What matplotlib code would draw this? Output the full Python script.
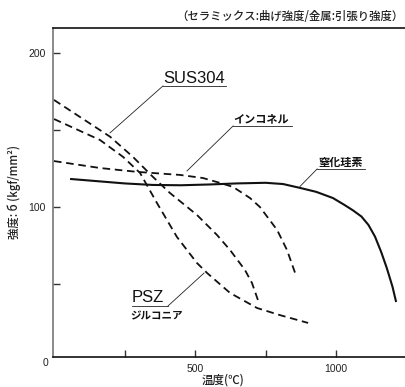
import matplotlib
matplotlib.use("Agg")
import matplotlib.pyplot as plt

plt.rcParams['font.family'] = ['Noto Sans CJK JP', 'DejaVu Sans']

# ---- data ----
si3n4_x = [57, 150, 250, 350, 450, 550, 650, 750, 812, 872, 930, 989, 1030, 1060, 1090, 1115, 1138, 1160, 1180, 1200, 1213]
si3n4_y = [118.4, 117.0, 115.5, 114.5, 114.3, 114.8, 115.5, 115.9, 115.1, 112.6, 110.0, 106.0, 101.5, 98.0, 94.0, 88.5, 81.0, 71.0, 60.5, 48.5, 38.5]

sus_x = [0, 199, 280, 351, 411, 507, 578, 624, 677, 702, 723]
sus_y = [169.7, 145.8, 132.7, 119.7, 109.3, 95.0, 82.0, 72.3, 59.3, 50.8, 39.8]

psz_x = [0, 163, 245, 305, 365, 436, 507, 543, 624, 720, 801, 901]
psz_y = [157.3, 143.7, 132.7, 122.3, 102.8, 80.7, 63.8, 57.3, 44.4, 34.6, 30.0, 24.9]

inc_x = [0, 163, 294, 447, 528, 589, 635, 695, 730, 791, 826, 855]
inc_y = [130.0, 125.5, 123.0, 121.0, 119.0, 115.8, 113.2, 106.0, 100.2, 85.3, 72.3, 57.3]

x_ticks = [250, 500, 750, 1000]
x_ticklabels = ['', '500', '', '1000']
y_ticks = [50, 100, 150, 200]
y_ticklabels = ['', '100', '', '200']

W, H = 406, 387
fig = plt.figure(figsize=(W / 100, H / 100), dpi=100)
ax = fig.add_axes([53 / W, 1 - 357.3 / H, 1 - 53 / W, (357.3 - 28) / H])
ax.set_xlim(-3.5, 1248)
ax.set_ylim(2.6, 216.4)

dash = (0, (4.2, 2.6))
ax.plot(si3n4_x, si3n4_y, color='#111111', lw=1.5, solid_capstyle='butt')
ax.plot(sus_x, sus_y, color='#111111', lw=1.3, linestyle=dash)
ax.plot(psz_x, psz_y, color='#111111', lw=1.3, linestyle=dash)
ax.plot(inc_x, inc_y, color='#111111', lw=1.3, linestyle=dash)

# spines
ax.spines['right'].set_visible(False)
ax.spines['left'].set_color('#777777')
ax.spines['left'].set_linewidth(1.2)
ax.spines['bottom'].set_color('#111111')
ax.spines['bottom'].set_linewidth(1.2)
ax.spines['top'].set_color('#111111')
ax.spines['top'].set_linewidth(1.2)

num_font = 'Liberation Sans'
ax.set_xticks(x_ticks)
ax.set_xticklabels(x_ticklabels, family=num_font)
ax.set_yticks(y_ticks)
ax.set_yticklabels(y_ticklabels, family=num_font)
ax.tick_params(axis='x', direction='in', length=5, width=1, color='#333333',
               pad=5, labelsize=7.5, labelcolor='#222222')
ax.tick_params(axis='y', direction='in', length=5, width=1, color='#333333',
               pad=5, labelsize=7.5, labelcolor='#222222')

fig.text(46 / W, 1 - 363 / H, '0', fontsize=7.5, family=num_font, color='#222222',
         ha='center', va='center')

# axis labels
fig.text(14 / W, 1 - 192 / H, '強度: б (kgf/mm²)', rotation=90, fontsize=8.2,
         ha='center', va='center', color='#222222', weight='medium')
fig.text(223 / W, 1 - 380.5 / H, '温度(℃)', fontsize=8.3, ha='center', va='center',
         color='#222222', weight='medium')
fig.text(404 / W, 1 - 16 / H, '（セラミックス:曲げ強度/金属:引張り強度）', fontsize=8.2,
         ha='right', va='center', color='#222222', weight='medium')

# annotations
lc = '#222222'
def label(text, tx, ty, ux0, ux1, uy, px, py, size, fam=None, weight='bold', lead_from_right=False):
    kw = dict(fontsize=size, ha='left', va='center', color='#111111', weight=weight)
    if fam:
        kw['family'] = fam
    ax.text(tx, ty, text, **kw)
    ax.plot([ux0, ux1], [uy, uy], color=lc, lw=0.6)
    sx = ux1 if lead_from_right else ux0
    ax.plot([sx, px], [uy, py], color=lc, lw=0.6)

label('SUS304', 386.5, 183.3, 386.5, 610, 178.8, 198.6, 148.3, 12, fam=num_font, weight='normal')
label('インコネル', 635, 157.3, 635, 844, 152.8, 471.6, 123.6, 8)
label('窒化珪素', 936, 129.4, 933, 1103, 124.9, 872, 113.5, 8)
label('PSZ', 276.6, 41.4, 276.6, 404, 35.9, 532, 57.3, 12, fam=num_font, weight='normal',
      lead_from_right=True)
ax.text(269.5, 29.4, 'ジルコニア', fontsize=7.6, ha='left', va='center', color='#111111',
        weight='bold')

fig.savefig('out.png', dpi=100)
